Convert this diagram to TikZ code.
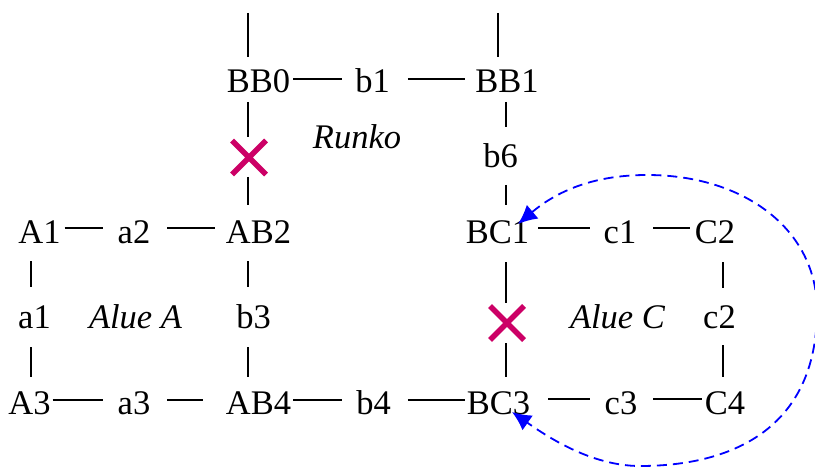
\documentclass[tikz,border=0pt]{standalone}
\usepackage{fontspec}
\setmainfont{Liberation Serif}
\usetikzlibrary{shapes.misc,arrows.meta}
\definecolor{xred}{RGB}{204,0,102}
\definecolor{arrblue}{RGB}{0,0,255}
\begin{document}
\begin{tikzpicture}[x=1pt,y=1pt,
  lbl/.style={inner sep=0pt,outer sep=0pt,anchor=base,text height=22pt,text depth=0pt,font=\fontsize{34.5}{40}\selectfont},
  ital/.style={lbl,font=\fontsize{34.5}{40}\selectfont\itshape},
  conn/.style={line width=2.2pt},
  blocked/.style={cross out,draw=xred,line width=5.5pt,minimum size=34pt,inner sep=0pt,outer sep=0pt},
  jump/.style={draw=arrblue,line width=1.8pt,dash pattern=on 10pt off 6pt,arrows={Latex[length=19pt,width=18pt,fill=arrblue]-Latex[length=19pt,width=18pt,fill=arrblue]}}]
\useasboundingbox (0,0) rectangle (815,467);

% nodes
\node[lbl] (BB0) at (258.5,374) {BB0};
\node[lbl] (b1)  at (372.5,374) {b1};
\node[lbl] (BB1) at (507,374) {BB1};
\node[ital] (runko) at (357,319) {Runko};
\node[lbl] (b6)  at (500.5,299) {b6};
\node[lbl] (A1)  at (39.5,224) {A1};
\node[lbl] (a2)  at (134,224) {a2};
\node[lbl] (AB2) at (258.5,224) {AB2};
\node[lbl] (BC1) at (497.5,224) {BC1};
\node[lbl] (c1)  at (620,224) {c1};
\node[lbl] (C2)  at (715,224) {C2};
\node[lbl] (a1)  at (34.5,139) {a1};
\node[ital] (alueA) at (135.5,139) {Alue A};
\node[lbl] (b3)  at (253.5,139) {b3};
\node[ital] (alueC) at (617.5,139) {Alue C};
\node[lbl] (c2)  at (719.5,139) {c2};
\node[lbl] (A3)  at (29.5,53) {A3};
\node[lbl] (a3)  at (134,53) {a3};
\node[lbl] (AB4) at (258.5,53) {AB4};
\node[lbl] (b4)  at (373.5,53) {b4};
\node[lbl] (BC3) at (498.5,53) {BC3};
\node[lbl] (c3)  at (621,53) {c3};
\node[lbl] (C4)  at (725,53) {C4};
\node[blocked] (x1) at (249,309.5) {};
\node[blocked] (x2) at (507,144) {};
\coordinate (top0) at (248,454);
\coordinate (top1) at (498,454);

% horizontal connectors
\draw[conn] ([shift={(3,3)}]BB0.east) -- ([shift={(-13,3)}]b1.west);
\draw[conn] ([shift={(18,3)}]b1.east) -- ([shift={(-10,3)}]BB1.west);
\draw[conn] ([shift={(4,4)}]A1.east) -- ([shift={(-15,4)}]a2.west);
\draw[conn] ([shift={(17,4)}]a2.east) -- ([shift={(-11,4)}]AB2.west);
\draw[conn] ([shift={(9,4)}]BC1.east) -- ([shift={(-14,4)}]c1.west);
\draw[conn] ([shift={(17,4)}]c1.east) -- ([shift={(-5,4)}]C2.west);
\draw[conn] ([shift={(2,3)}]A3.east) -- ([shift={(-15,3)}]a3.west);
\draw[conn] ([shift={(17,3)}]a3.east) -- ([shift={(-23,3)}]AB4.west);
\draw[conn] ([shift={(2,3)}]AB4.east) -- ([shift={(-14,3)}]b4.west);
\draw[conn] ([shift={(17,3)}]b4.east) -- ([shift={(-2,3)}]BC3.west);
\draw[conn] ([shift={(18,4)}]BC3.east) -- ([shift={(-15,4)}]c3.west);
\draw[conn] ([shift={(16,4)}]c3.east) -- ([shift={(-3,4)}]C4.west);

% vertical connectors
\draw[conn] (top0) -- ([shift={(-10.5,14)}]BB0.north);
\draw[conn] (top1) -- ([shift={(-9,14)}]BB1.north);
\draw[conn] ([shift={(-10.5,-9)}]BB0.south) -- ([shift={(-1,3.5)}]x1.north);
\draw[conn] ([shift={(-1,-2.5)}]x1.south) -- ([shift={(-10.5,16)}]AB2.north);
\draw[conn] ([shift={(-1,-9)}]BB1.south) -- ([shift={(5.5,19)}]b6.north);
\draw[conn] ([shift={(5.5,-17)}]b6.south) -- ([shift={(8.5,16)}]BC1.north);
\draw[conn] ([shift={(8.5,-19)}]BC1.south) -- ([shift={(-1,3)}]x2.north);
\draw[conn] ([shift={(-1,-3)}]x2.south) -- ([shift={(7.5,15)}]BC3.north);
\draw[conn] ([shift={(-8.5,-18)}]A1.south) -- ([shift={(-3.5,19)}]a1.north);
\draw[conn] ([shift={(-3.5,-19)}]a1.south) -- ([shift={(1.5,15)}]A3.north);
\draw[conn] ([shift={(-10.5,-18)}]AB2.south) -- ([shift={(-5.5,19)}]b3.north);
\draw[conn] ([shift={(-5.5,-19)}]b3.south) -- ([shift={(-10.5,15)}]AB4.north);
\draw[conn] ([shift={(8,-19)}]C2.south) -- ([shift={(3.5,18)}]c2.north);
\draw[conn] ([shift={(3.5,-17)}]c2.south) -- ([shift={(-2,15)}]C4.north);

% dashed loop arrow
\draw[jump] ([shift={(20.5,8)}]BC1.center) .. controls (556,275) and (592,292) .. (647,292)
  .. controls (745,292) and (817,237) .. (817,157)
  .. controls (817,37) and (730,1) .. (640,1)
  .. controls (590,1) and (545,32) .. ([shift={(13.5,-9)}]BC3.center);
\end{tikzpicture}
\end{document}
